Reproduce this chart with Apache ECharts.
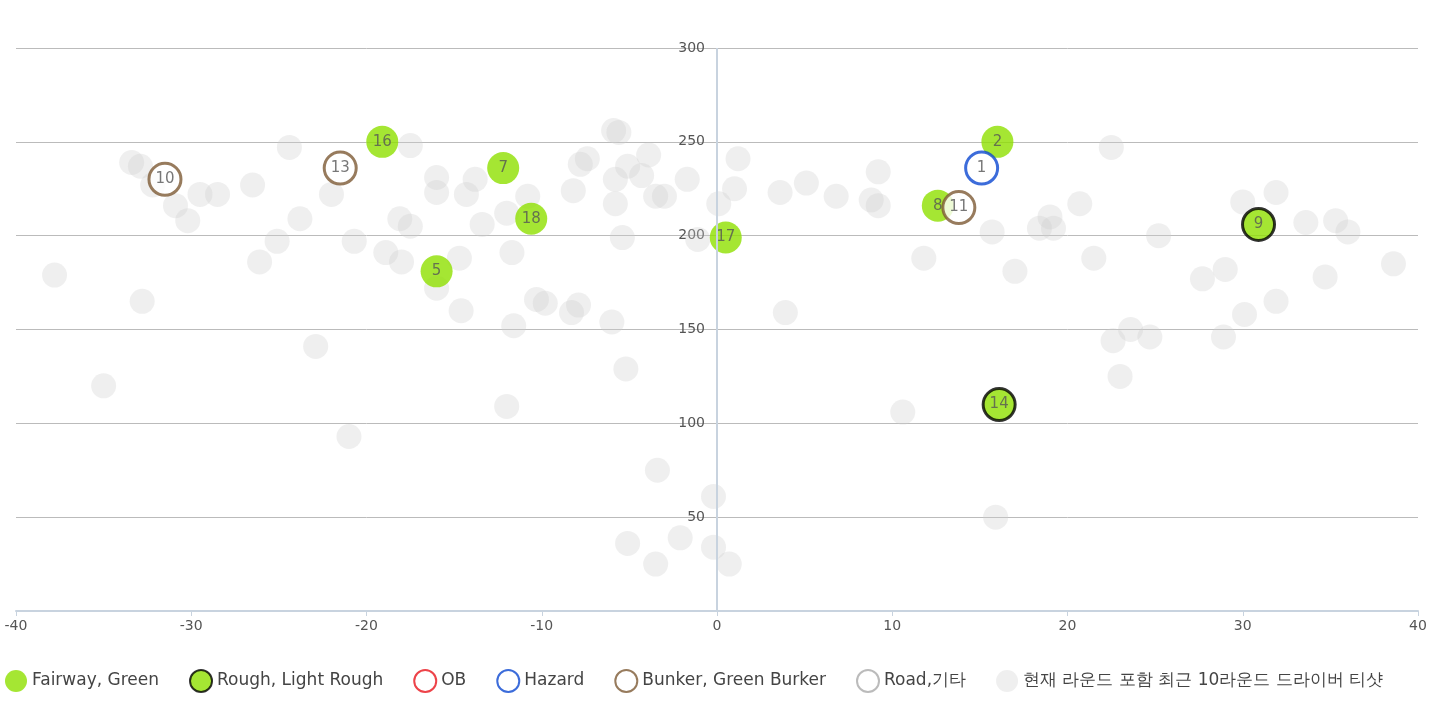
<!DOCTYPE html><html><head><meta charset="utf-8"><script src="https://cdn.jsdelivr.net/npm/echarts@6/dist/echarts.min.js"></script>
<style>html,body{margin:0;padding:0;background:#fff}#c{width:1443px;height:712px}</style></head><body><div id="c"></div><script>
const history=[[-37.8,179],[-35,120],[-32.8,165],[-33.4,239],[-32.9,237],[-32.2,227],[-30.9,216],[-30.2,208],[-29.5,222],[-28.5,222],[-26.5,227],[-26.1,186],[-25.1,197],[-24.4,247],[-23.8,209],[-22.9,141],[-22,222],[-21,93],[-20.7,197],[-18.9,191],[-18.1,209],[-18,186],[-17.5,248],[-17.5,205],[-16,231],[-16,223],[-16,172],[-14.7,188],[-14.6,160],[-14.3,222],[-13.8,230],[-13.4,206],[-12,109],[-12,212],[-11.7,191],[-11.6,152],[-10.8,221],[-10.3,166],[-9.8,164],[-8.3,159],[-8.2,224],[-7.9,163],[-7.8,238],[-7.4,241],[-6.0,154],[-5.9,256],[-5.6,255],[-5.8,230],[-5.8,217],[-5.4,199],[-5.2,129],[-5.1,36],[-5.1,237],[-4.3,232],[-3.9,243],[-3.5,25],[-3.4,75],[-3.5,221],[-3.0,221],[-2.1,39],[-1.7,230],[-0.2,34],[-0.2,61],[-1.1,198],[0.1,217],[0.7,25],[1.0,225],[1.2,241],[3.6,223],[3.9,159],[5.1,228],[6.8,221],[8.8,219],[9.2,216],[9.2,234],[10.6,106],[11.8,188],[15.7,202],[15.9,50],[17.0,181],[18.4,204],[19.0,210],[19.2,204],[20.7,217],[21.5,188],[22.5,247],[22.6,144],[23.0,125],[23.6,150],[24.7,146],[25.2,200],[27.7,177],[28.9,146],[29.0,182],[30.0,218],[30.1,158],[31.9,223],[31.9,165],[33.6,207],[34.7,178],[35.3,208],[36.0,202],[38.6,185]];
const fairway=[[-19.1,250,16],[-12.2,236,7],[-10.6,209,18],[-16,181,5],[0.5,199,17],[12.6,216,8],[16,250,2]];
const rough=[[16.1,110,14],[30.9,206,9]];
const ob=[];
const hazard=[[15.1,236,1]];
const bunker=[[-31.5,230,10],[-21.5,236,13],[13.8,215,11]];
const road=[];
const lbl={show:true,formatter:p=>p.value[2],color:'#555',fontSize:15,fontFamily:'DejaVu Sans'};
function s(name,data,style){return {name,type:'scatter',data,symbolSize:32,label:lbl,itemStyle:style,z:3};}
const chart=echarts.init(document.getElementById('c'));
chart.setOption({animation:false,
grid:{left:16,right:25,top:48,bottom:101,containLabel:false,outerBoundsMode:'none'},
legend:{bottom:14,left:0,itemGap:30,itemWidth:22,itemHeight:22,icon:'circle',textStyle:{fontSize:17,color:'#444',fontFamily:'DejaVu Sans'},
data:['Fairway, Green','Rough, Light Rough','OB','Hazard','Bunker, Green Burker','Road,기타','현재 라운드 포함 최근 10라운드 드라이버 티샷']},
xAxis:{type:'value',min:-40,max:40,interval:10,splitLine:{show:false},axisLine:{lineStyle:{color:'#c8d3df',width:2}},axisTick:{lineStyle:{color:'#c8d3df'}},axisLabel:{color:'#555',fontSize:14,fontFamily:'DejaVu Sans'}},
yAxis:{type:'value',min:0,max:300,interval:50,axisLine:{show:false},axisTick:{show:false},splitLine:{lineStyle:{color:'#bbb'}},axisLabel:{color:'#555',fontSize:14,fontFamily:'DejaVu Sans',showMinLabel:false,margin:-689,align:'right'}},
series:[
{name:'현재 라운드 포함 최근 10라운드 드라이버 티샷',type:'scatter',data:history,symbolSize:25,itemStyle:{color:'rgba(205,205,205,0.4)'},z:1,
 markLine:{silent:true,symbol:'none',label:{show:false},lineStyle:{color:'#c8d3df',width:2,type:'solid'},data:[{xAxis:0}]}},
s('Fairway, Green',fairway,{color:'#8ee000'}),
s('Rough, Light Rough',rough,{color:'#8ee000',borderColor:'#000',borderWidth:3}),
s('OB',ob,{color:'#fff',borderColor:'#e8141c',borderWidth:3}),
s('Hazard',hazard,{color:'#fff',borderColor:'#0b47d1',borderWidth:3}),
s('Bunker, Green Burker',bunker,{color:'#fff',borderColor:'#7d5a35',borderWidth:3}),
s('Road,기타',road,{color:'#fff',borderColor:'#aaa',borderWidth:3})
]});
</script></body></html>
